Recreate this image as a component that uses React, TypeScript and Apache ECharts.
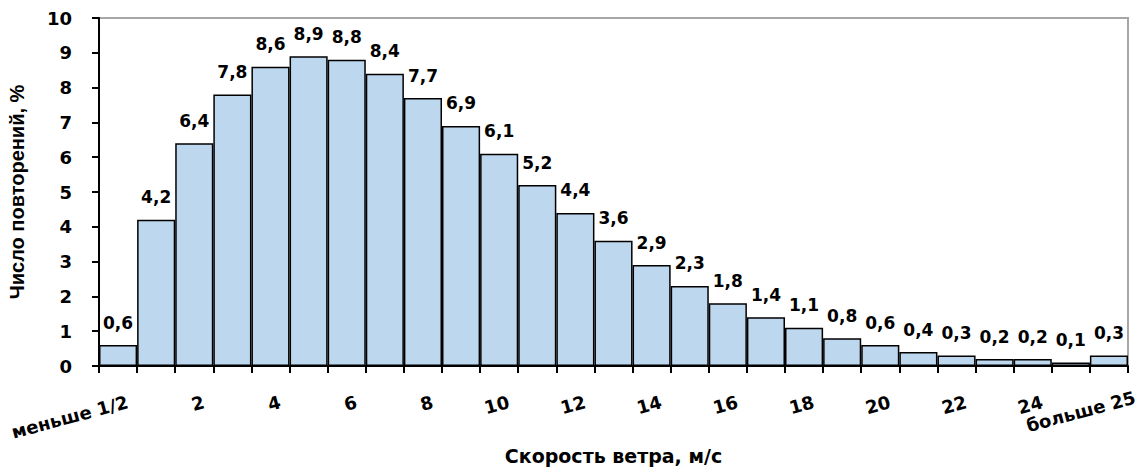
import React, { useEffect, useRef } from "react";
import * as echarts from "echarts";

// Wind speed classes, m/s
const categories: string[] = [
  "меньше 1/2", "1", "2", "3", "4", "5", "6", "7", "8", "9", "10",
  "11", "12", "13", "14", "15", "16", "17", "18", "19", "20",
  "21", "22", "23", "24", "25", "больше 25",
];

// Repeatability of each speed class, %
const frequency: number[] = [
  0.6, 4.2, 6.4, 7.8, 8.6, 8.9, 8.8, 8.4, 7.7, 6.9, 6.1, 5.2, 4.4, 3.6,
  2.9, 2.3, 1.8, 1.4, 1.1, 0.8, 0.6, 0.4, 0.3, 0.2, 0.2, 0.1, 0.3,
];

const yMin = 0;
const yMax = 10;
const yStep = 1;

const xTitle = "Скорость ветра, м/с";
const yTitle = "Число повторений, %";

const WIDE = "'DejaVu Sans', 'Liberation Sans', Arial, sans-serif";
const NARROW = "'Liberation Sans', Arial, sans-serif";

export default function App() {
  const ref = useRef<HTMLDivElement>(null);

  useEffect(() => {
    if (!ref.current) return;
    const chart = echarts.init(ref.current, null, { renderer: "svg" });
    const lastCategory = categories[categories.length - 1];
    chart.setOption({
      animation: false,
      backgroundColor: "#ffffff",
      textStyle: { fontFamily: WIDE },
      grid: {
        left: 99,
        right: 12,
        top: 18,
        bottom: 101,
        containLabel: false,
        outerBoundsMode: "none",
        show: true,
        borderColor: "#a6a6a6",
        borderWidth: 2,
        backgroundColor: "transparent",
      },
      xAxis: {
        type: "category",
        data: categories,
        boundaryGap: true,
        axisLine: { lineStyle: { color: "#000", width: 2 } },
        axisTick: { show: true, interval: 0, length: 7, lineStyle: { color: "#000", width: 2 } },
        axisLabel: {
          interval: 1,
          rotate: 15,
          margin: 38,
          padding: [0, -10, 0, 0],
          color: "#000",
          fontWeight: "bold",
          fontSize: 18,
          fontFamily: WIDE,
          // the open-ended top class sits a little further right
          formatter: (v: string) => (v === lastCategory ? `{last|${v}}` : v),
          rich: {
            last: {
              color: "#000",
              fontWeight: "bold",
              fontSize: 18,
              fontFamily: WIDE,
              padding: [0, -17, 0, 0],
            },
          },
        },
        name: xTitle,
        nameLocation: "middle",
        nameGap: 78,
        nameTextStyle: { color: "#000", fontWeight: "bold", fontSize: 19, fontFamily: WIDE },
      },
      yAxis: {
        type: "value",
        min: yMin,
        max: yMax,
        interval: yStep,
        splitLine: { show: false },
        axisLine: { show: true, lineStyle: { color: "#000", width: 2 } },
        axisTick: { show: true, length: 7, lineStyle: { color: "#000", width: 2 } },
        axisLabel: {
          margin: 27,
          color: "#000",
          fontWeight: "bold",
          fontSize: 18,
          fontFamily: WIDE,
        },
        name: yTitle,
        nameLocation: "middle",
        nameGap: 72,
        nameRotate: 90,
        nameTextStyle: { color: "#000", fontWeight: "bold", fontSize: 20, fontFamily: NARROW },
      },
      series: [
        {
          type: "bar",
          data: frequency,
          barCategoryGap: 0,
          itemStyle: { color: "#bdd7ee", borderColor: "#000", borderWidth: 1.5 },
          label: {
            show: true,
            position: "top",
            distance: 14,
            color: "#000",
            fontWeight: "bold",
            fontSize: 17,
            fontFamily: WIDE,
            formatter: (p: any) => Number(p.value).toFixed(1).replace(".", ","),
          },
        },
      ],
    });
    return () => chart.dispose();
  }, []);

  return (
    <div
      ref={ref}
      style={{ position: "fixed", left: 0, top: 0, width: 1140, height: 467 }}
    />
  );
}
